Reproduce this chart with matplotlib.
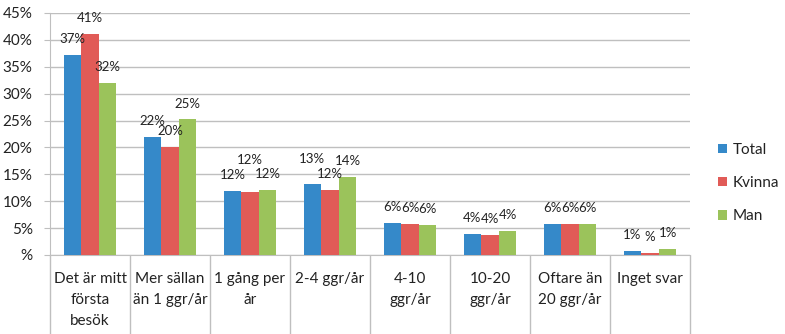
import matplotlib
matplotlib.use("Agg")
import matplotlib.pyplot as plt
import numpy as np
from matplotlib.ticker import FuncFormatter, FixedLocator

plt.rcParams['font.family'] = ['Lato', 'DejaVu Sans']

categories = ["Det är mitt\nförsta\nbesök", "Mer sällan\nän 1 ggr/år", "1 gång per\når",
              "2-4 ggr/år", "4-10\nggr/år", "10-20\nggr/år", "Oftare än\n20 ggr/år", "Inget svar"]
series_names = ["Total", "Kvinna", "Man"]
total = [37.2, 21.9, 11.9, 13.2, 5.9, 3.9, 5.8, 0.7]
kvinna = [41.1, 20.1, 11.7, 12.1, 5.8, 3.7, 5.8, 0.4]
man = [32.0, 25.2, 12.1, 14.5, 5.6, 4.5, 5.8, 1.1]
colors = ["#3589C9", "#E15B57", "#9BC35B"]

# extra lift (points) for labels that would otherwise collide
label_lift = {(1, 2): 11.5, (0, 3): 6.5}

fig = plt.figure(figsize=(7.85, 3.34), dpi=100)
ax = fig.add_axes([50 / 785, 79 / 334, 640 / 785, 242 / 334])

x = np.arange(len(categories))
w = 0.22
grid_c = "#BFBFBF"

for si, vals in enumerate([total, kvinna, man]):
    pos = x + (si - 1) * w
    ax.bar(pos, vals, width=w, color=colors[si], label=series_names[si], zorder=3)
    for ci, (p, v) in enumerate(zip(pos, vals)):
        r = int(round(v))
        txt = f"{r}%" if r != 0 else "%"
        ax.annotate(txt, (p, v), xytext=(0, 11.5 + label_lift.get((si, ci), 0)),
                    textcoords="offset points", ha="center", va="center",
                    fontsize=9.5, color="#222222", zorder=4)

ax.set_xlim(-0.5, len(categories) - 0.5)
ax.set_ylim(0, 45)
ax.set_yticks(np.arange(0, 46, 5))
ax.yaxis.set_major_formatter(FuncFormatter(lambda v, _: f"{int(v)}%" if v != 0 else "%"))
ax.grid(axis="y", color=grid_c, linewidth=1, zorder=0)

for s in ["top", "right"]:
    ax.spines[s].set_visible(False)
for s in ["left", "bottom"]:
    ax.spines[s].set_color(grid_c)

ax.tick_params(axis="y", length=4, color=grid_c, pad=8.5, labelsize=11, labelcolor="#222222")

ax.set_xticks(x)
ax.set_xticklabels(categories, fontsize=11, color="#222222", linespacing=1.6, va="top")
ax.tick_params(axis="x", which="major", length=0, pad=12.5)
ax.xaxis.set_minor_locator(FixedLocator(np.arange(-0.5, len(categories), 1.0)))
ax.tick_params(axis="x", which="minor", length=60, width=1, color=grid_c, direction="out")

leg = ax.legend(loc="center left", frameon=False,
                fontsize=11, handlelength=0.6, handleheight=0.6, handletextpad=0.35,
                labelspacing=1.25, labelcolor="#222222", borderpad=0, borderaxespad=0)
leg.set_bbox_to_anchor((1.044, 0.0, 1.0, 0.595), transform=ax.transAxes)

fig.savefig("out.png", dpi=100)
